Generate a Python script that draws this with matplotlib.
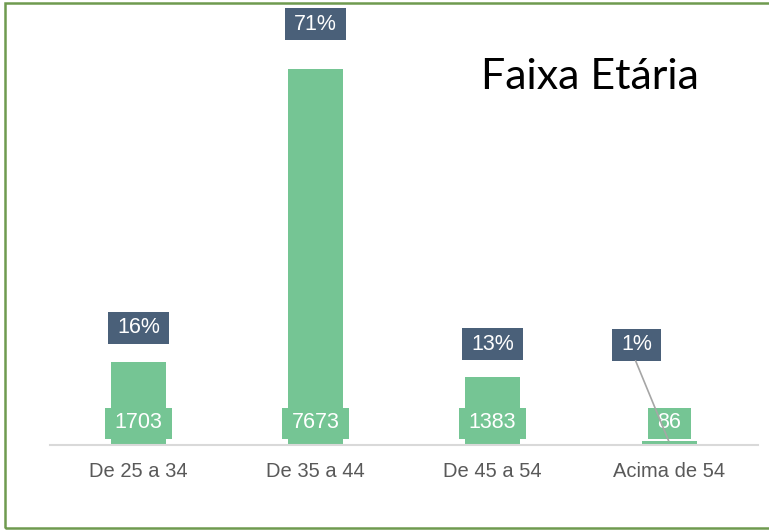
import matplotlib
matplotlib.use("Agg")
import matplotlib.pyplot as plt
from matplotlib.patches import Rectangle
from matplotlib.transforms import IdentityTransform

categories = ["De 25 a 34", "De 35 a 44", "De 45 a 54", "Acima de 54"]
counts = [1703, 7673, 1383, 86]
percent_labels = ["16%", "71%", "13%", "1%"]
title = "Faixa Etária"

# layout (pixel offsets of percent labels relative to bar top)
pct_offsets = [(0, 34), (0, 45), (0, 33), (-33, 96)]

W, H = 769, 530
fig = plt.figure(figsize=(W / 100, H / 100), dpi=100)
fig.patch.set_facecolor("white")

base_px = 445
left_px, right_px = 50, 758
ymax = 8000
height_frac = (base_px - 69) / H * ymax / counts[1]
ax = fig.add_axes([left_px / W, (H - base_px) / H, (right_px - left_px) / W, height_frac])

green = "#75C594"
slate = "#4A6079"
x = list(range(len(categories)))
ax.bar(x, counts, width=0.31, color=green, zorder=2)
ax.set_xlim(-0.5, 3.5)
ax.set_ylim(0, ymax)
for s in ["top", "right", "left"]:
    ax.spines[s].set_visible(False)
ax.spines["bottom"].set_color("#D9D9D9")
ax.spines["bottom"].set_linewidth(1.5)
ax.set_yticks([])
ax.set_xticks(x)
ax.set_xticklabels(categories, fontsize=14.5, color="#595959", family="Liberation Sans")
ax.tick_params(axis="x", length=0, pad=12)

texts = []
for i, (c, p, off) in enumerate(zip(counts, percent_labels, pct_offsets)):
    t1 = ax.annotate(str(c), xy=(i, 0), xytext=(0, 22), textcoords="offset pixels",
                     ha="center", va="center", fontsize=15.5, color="white",
                     family="Liberation Sans", zorder=6, annotation_clip=False)
    texts.append((t1, green, 31))
    t2 = ax.annotate(p, xy=(i, c), xytext=off, textcoords="offset pixels",
                     ha="center", va="center", fontsize=15.5, color="white",
                     family="Liberation Sans", zorder=6, annotation_clip=False)
    texts.append((t2, slate, 32))
    if off[0] != 0:
        ax.annotate("", xy=(i - 0.005, c), xycoords="data",
                    xytext=(off[0], off[1] - 16), textcoords="offset pixels",
                    annotation_clip=False,
                    arrowprops=dict(arrowstyle="-", color="#A6A6A6", lw=1.2,
                                    shrinkA=0, shrinkB=0), zorder=7)

fig.canvas.draw()
r = fig.canvas.get_renderer()
for t, col, hpx in texts:
    bb = t.get_window_extent(r)
    cx = (bb.x0 + bb.x1) / 2
    cy = (bb.y0 + bb.y1) / 2
    wpx = bb.width + 19
    rect = Rectangle((cx - wpx / 2, cy - hpx / 2), wpx, hpx,
                     transform=IdentityTransform(), fc=col, ec="none",
                     zorder=5, clip_on=False)
    ax.add_artist(rect)

fig.text(590 / W, 1 - 77 / H, title, fontsize=31, family="Lato", color="black",
         ha="center", va="center")

fig.patches.append(Rectangle((4.5 / W, 2.5 / H), (W + 10) / W, (H - 5) / H,
                             transform=fig.transFigure, fill=False,
                             ec="#6F9A4F", lw=1.8))

fig.savefig("out.png", dpi=100, facecolor="white")
